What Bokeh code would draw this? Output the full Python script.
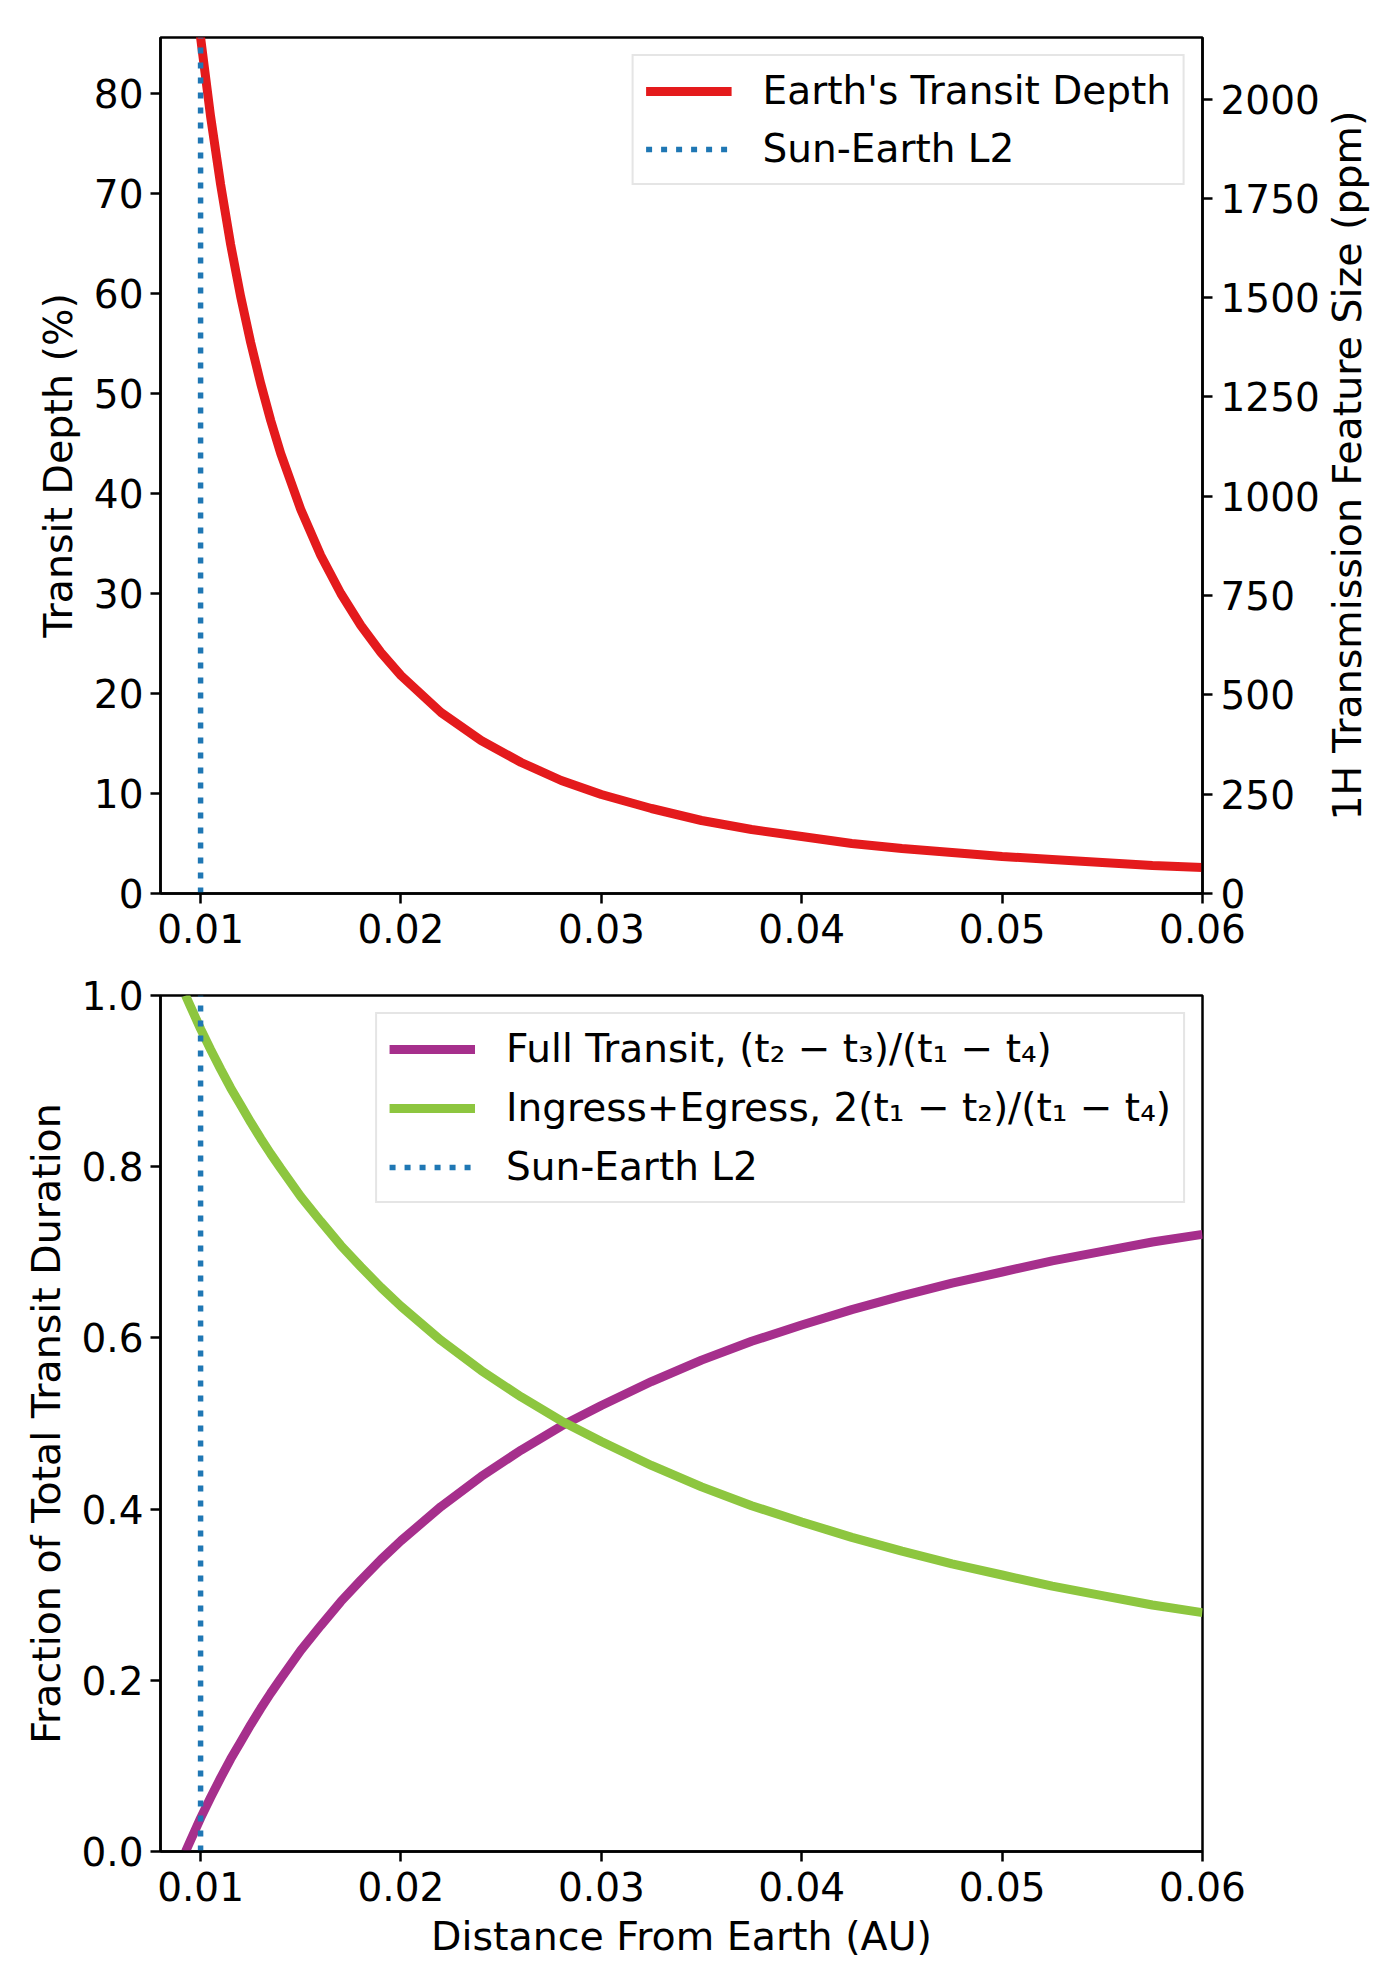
import math
from bokeh.plotting import figure
from bokeh.models import (Range1d, LinearAxis, Legend, LegendItem, FixedTicker,
                          PrintfTickFormatter, ColumnDataSource)
from bokeh.core.properties import value
from bokeh.layouts import column, row
from bokeh.embed import file_html
from bokeh.resources import INLINE

# ---------------- data ----------------
distance_au = [0.00925, 0.0095, 0.0100, 0.0105, 0.0110, 0.0115, 0.0120, 0.0125, 0.0130, 0.0135,
               0.0140, 0.0150, 0.0160, 0.0170, 0.0180, 0.0190, 0.0200, 0.0220, 0.0240, 0.0260,
               0.0280, 0.0300, 0.0325, 0.0350, 0.0375, 0.0400, 0.0425, 0.0450, 0.0475, 0.0500,
               0.0525, 0.0550, 0.0575, 0.0600]
transit_depth_pct = [99.9, 94.8, 85.6, 77.7, 70.9, 64.9, 59.7, 55.1, 51.0, 47.3,
                     44.0, 38.4, 33.8, 30.0, 26.8, 24.1, 21.8, 18.1, 15.3, 13.1,
                     11.3, 9.9, 8.5, 7.3, 6.4, 5.7, 5.0, 4.5, 4.1, 3.7,
                     3.4, 3.1, 2.8, 2.6]
full_transit_frac = [0.000, 0.013, 0.039, 0.063, 0.086, 0.108, 0.128, 0.148, 0.167, 0.185,
                     0.202, 0.235, 0.264, 0.292, 0.317, 0.341, 0.363, 0.403, 0.438, 0.469,
                     0.497, 0.521, 0.549, 0.574, 0.596, 0.615, 0.633, 0.649, 0.664, 0.677,
                     0.690, 0.701, 0.712, 0.721]
ingress_egress_frac = [1.000, 0.987, 0.961, 0.937, 0.914, 0.892, 0.872, 0.852, 0.833, 0.815,
                       0.798, 0.765, 0.736, 0.708, 0.683, 0.659, 0.637, 0.597, 0.562, 0.531,
                       0.503, 0.479, 0.451, 0.426, 0.404, 0.385, 0.367, 0.351, 0.336, 0.323,
                       0.310, 0.299, 0.288, 0.279]
l2_distance_au = 0.01

x_ticks = [0.01, 0.02, 0.03, 0.04, 0.05, 0.06]
depth_ticks = [0, 10, 20, 30, 40, 50, 60, 70, 80]
ppm_ticks = [0, 250, 500, 750, 1000, 1250, 1500, 1750, 2000]
frac_ticks = [0.0, 0.2, 0.4, 0.6, 0.8, 1.0]

x_limits = (0.008, 0.06)
depth_limits = (0, 85.6)
ppm_limits = (0, 2155)
frac_limits = (0, 1)

labels_top = ["Earth's Transit Depth", "Sun-Earth L2"]
labels_bottom = ["Full Transit, (t\u2082 \u2212 t\u2083)/(t\u2081 \u2212 t\u2084)",
                 "Ingress+Egress, 2(t\u2081 \u2212 t\u2082)/(t\u2081 \u2212 t\u2084)",
                 "Sun-Earth L2"]
right_label = "1H Transmission Feature Size (ppm)"

# ---------------- style ----------------
FONT = "DejaVu Sans"
TFS = "39px"     # tick labels
AFS = "39.5px"   # axis labels
LFS = "39px"     # legend
RED = "#e41a1c"
PURPLE = "#a62f8c"
GREEN = "#8dc63f"
BLUE = "#1f77b4"
LW = 9
DOT_W = 5.5
DOT_DASH = "6 9"
FRAME_W, FRAME_H = 1042, 856
TOP1, BOT1 = 37, 70
TOP2, BOT2 = 32, 125

src = ColumnDataSource(dict(x=distance_au, depth=transit_depth_pct,
                            full=full_transit_frac, ingress=ingress_egress_frac))


def style_axis(ax, standoff, label_standoff):
    ax.axis_line_color = "black"
    ax.axis_line_width = 2.5
    ax.major_tick_line_color = "black"
    ax.major_tick_line_width = 2.5
    ax.major_tick_out = 10
    ax.major_tick_in = 0
    ax.minor_tick_line_color = None
    ax.major_label_text_font = FONT
    ax.major_label_text_font_size = TFS
    ax.major_label_text_color = "black"
    ax.major_label_standoff = standoff
    ax.axis_label_text_font = FONT
    ax.axis_label_text_font_size = AFS
    ax.axis_label_text_font_style = "normal"
    ax.axis_label_text_color = "black"
    ax.axis_label_standoff = label_standoff


def make_fig(y_limits, top_border, bottom_border, right_border):
    p = figure(frame_width=FRAME_W, frame_height=FRAME_H,
               x_range=Range1d(*x_limits), y_range=Range1d(*y_limits),
               output_backend="svg", toolbar_location=None,
               min_border_left=160, min_border_right=right_border,
               min_border_top=top_border, min_border_bottom=bottom_border)
    p.xgrid.visible = False
    p.ygrid.visible = False
    p.outline_line_color = "black"
    p.outline_line_width = 2.5
    p.outline_line_alpha = 1.0
    p.background_fill_color = "white"
    p.border_fill_color = "white"
    p.xaxis.ticker = FixedTicker(ticks=x_ticks)
    p.xaxis.formatter = PrintfTickFormatter(format="%.2f")
    return p


def make_legend(items, spacing):
    lg = Legend(items=items, location="top_right")
    lg.label_text_font = FONT
    lg.label_text_font_size = LFS
    lg.label_text_color = "black"
    lg.glyph_width = 86
    lg.glyph_height = 44
    lg.label_height = 44
    lg.label_standoff = 31
    lg.spacing = spacing
    lg.padding = 12
    lg.margin = 17
    lg.border_line_color = "#cccccc"
    lg.border_line_width = 2
    lg.background_fill_alpha = 0.85
    return lg


# ---------------- top panel ----------------
p1 = make_fig(depth_limits, TOP1, BOT1, 122)
p1.extra_y_ranges = {"ppm": Range1d(*ppm_limits)}
r_depth = p1.line("x", "depth", source=src, line_color=RED, line_width=LW)
r_l2a = p1.line(x=[l2_distance_au, l2_distance_au], y=[depth_limits[0], depth_limits[1]],
                line_color=BLUE, line_width=DOT_W, line_dash=DOT_DASH)
p1.yaxis.ticker = FixedTicker(ticks=depth_ticks)
p1.yaxis.formatter = PrintfTickFormatter(format="%d")
p1.yaxis.axis_label = "Transit Depth (%)"
style_axis(p1.yaxis[0], 7, 10)
style_axis(p1.xaxis[0], 10, 13)
ax_r = LinearAxis(y_range_name="ppm",
                  ticker=FixedTicker(ticks=ppm_ticks), formatter=PrintfTickFormatter(format="%d"))
style_axis(ax_r, 8, 4)
p1.add_layout(ax_r, "right")
p1.add_layout(make_legend([LegendItem(label=labels_top[0], renderers=[r_depth]),
                           LegendItem(label=labels_top[1], renderers=[r_l2a])], 13))

# right-hand axis title, reading bottom-to-top, in a narrow strip next to the top panel
side = figure(frame_width=52, frame_height=FRAME_H,
              x_range=Range1d(-1, 1), y_range=Range1d(*depth_limits),
              output_backend="svg", toolbar_location=None,
              x_axis_location=None, y_axis_location=None,
              min_border_left=0, min_border_right=0,
              min_border_top=TOP1, min_border_bottom=BOT1)
side.xgrid.visible = False
side.ygrid.visible = False
side.outline_line_color = None
side.background_fill_color = "white"
side.border_fill_color = "white"
side.text(x=[-0.15], y=[(depth_limits[0] + depth_limits[1]) / 2], text=[right_label],
          angle=math.pi / 2, text_align="center", text_baseline="middle",
          text_font=value(FONT), text_font_size=value(AFS), text_color="black")

# ---------------- bottom panel ----------------
p2 = make_fig(frac_limits, TOP2, BOT2, 190)
r_full = p2.line("x", "full", source=src, line_color=PURPLE, line_width=LW)
r_ing = p2.line("x", "ingress", source=src, line_color=GREEN, line_width=LW)
r_l2b = p2.line(x=[l2_distance_au, l2_distance_au], y=[frac_limits[0], frac_limits[1]],
                line_color=BLUE, line_width=DOT_W, line_dash=DOT_DASH)
p2.yaxis.ticker = FixedTicker(ticks=frac_ticks)
p2.yaxis.formatter = PrintfTickFormatter(format="%.1f")
p2.yaxis.axis_label = "Fraction of Total Transit Duration"
p2.xaxis.axis_label = "Distance From Earth (AU)"
style_axis(p2.yaxis[0], 7, 9)
style_axis(p2.xaxis[0], 10, 9)
p2.add_layout(make_legend([LegendItem(label=labels_bottom[0], renderers=[r_full]),
                           LegendItem(label=labels_bottom[1], renderers=[r_ing]),
                           LegendItem(label=labels_bottom[2], renderers=[r_l2b])], 14))

layout = column(row(p1, side, spacing=0), p2, spacing=0)
open("out.html", "w").write(file_html(layout, INLINE))
